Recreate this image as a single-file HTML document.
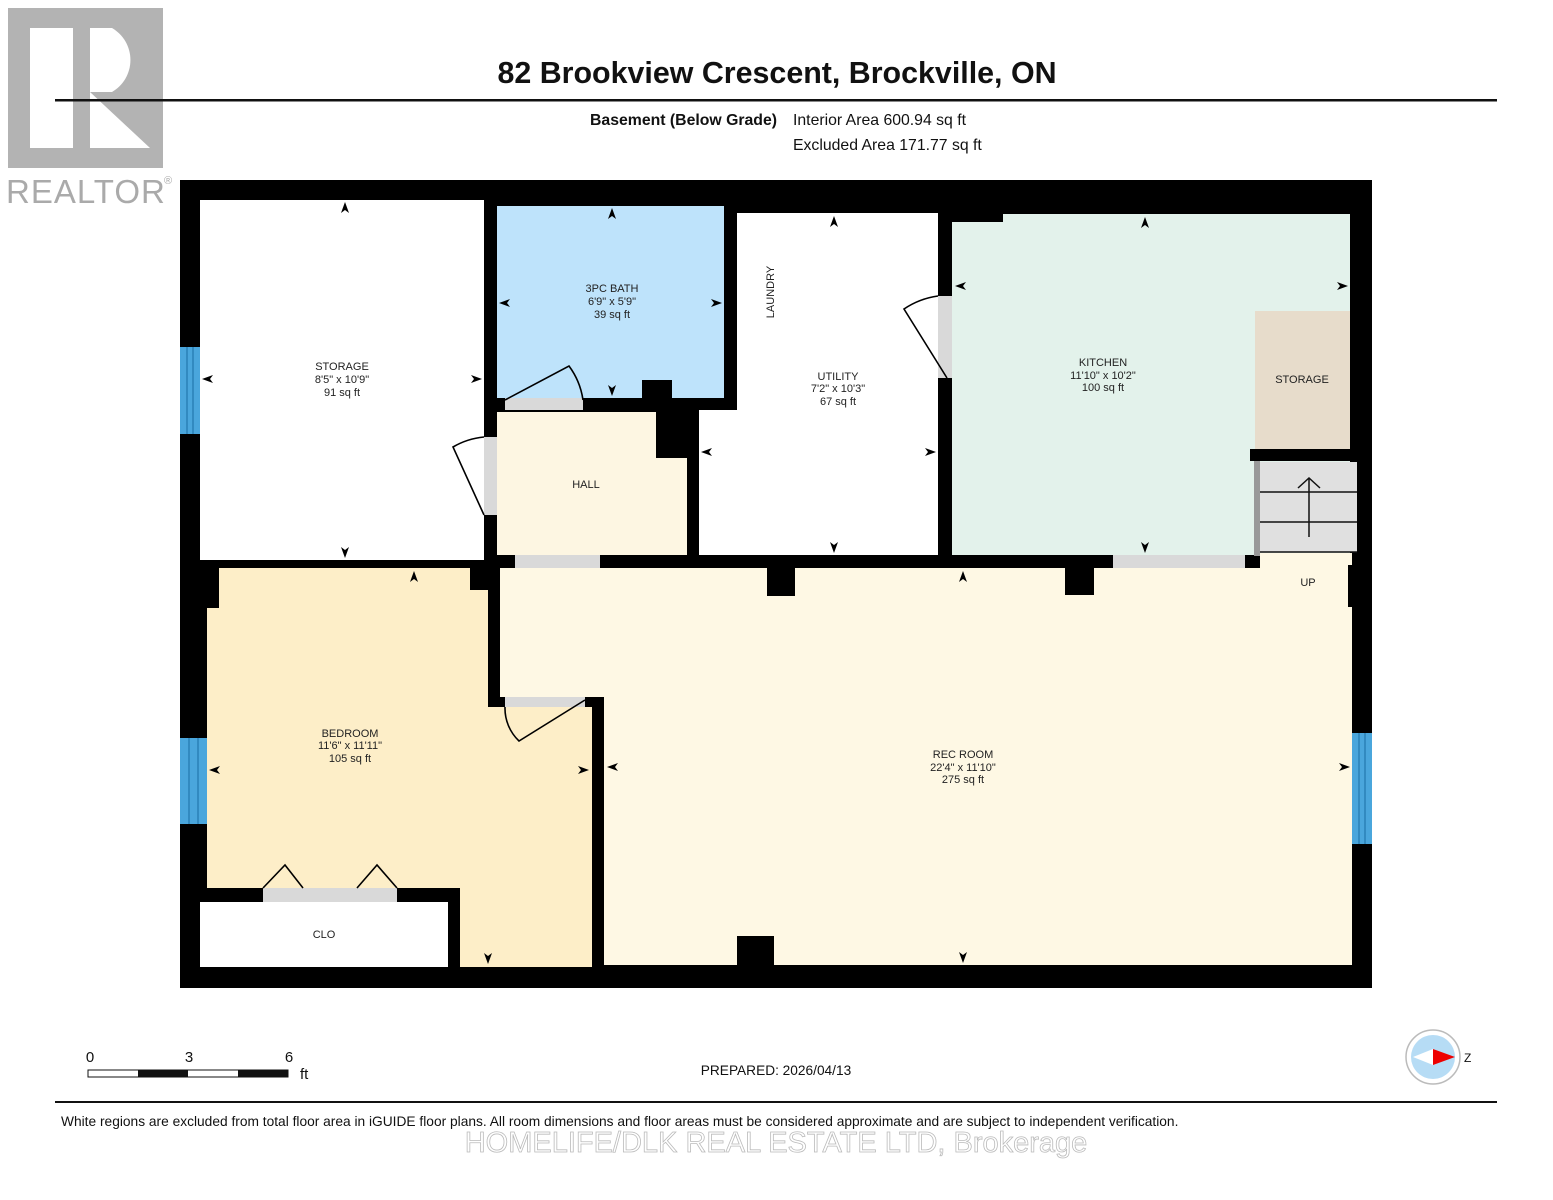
<!DOCTYPE html>
<html><head><meta charset="utf-8"><style>
html,body{margin:0;padding:0;background:#fff;}
svg{display:block;font-family:"Liberation Sans",Arial,sans-serif;}
</style></head><body>
<svg width="1553" height="1200" viewBox="0 0 1553 1200" xmlns="http://www.w3.org/2000/svg">
<defs>
<path id="a" d="M0,-6 L4,5 L0,2 L-4,5 Z" fill="#000"/>
</defs>
<!-- Realtor logo -->
<rect x="8" y="8" width="155" height="160" fill="#b3b3b3"/>
<rect x="30" y="28" width="43" height="120" fill="#fff"/>
<path d="M90,28 H112 A37,37 0 0 1 112,92 H90 Z" fill="#fff"/>
<path d="M90,92 L150,148 H90 Z" fill="#fff"/>
<rect x="73" y="28" width="17" height="120" fill="#b3b3b3"/>
<text x="6" y="203" font-size="33" fill="#aaa" letter-spacing="1">REALTOR</text>
<text x="164" y="184" font-size="11" fill="#aaa">®</text>
<!-- header -->
<text x="777" y="83" font-size="30.4" font-weight="bold" text-anchor="middle" fill="#111">82 Brookview Crescent, Brockville, ON</text>
<rect x="55" y="99" width="1442" height="2.5" fill="#111"/>
<text x="777" y="125" font-size="15.8" font-weight="bold" text-anchor="end" fill="#111">Basement (Below Grade)</text>
<text x="793" y="125" font-size="15.8" fill="#111">Interior Area 600.94 sq ft</text>
<text x="793" y="150" font-size="15.8" fill="#111">Excluded Area 171.77 sq ft</text>
<!-- building -->
<rect x="180" y="180" width="1192" height="808" fill="#000"/>
<rect x="200" y="200" width="284" height="360" fill="#fff"/>
<rect x="497" y="206" width="227" height="192" fill="#bee3fb"/>
<rect x="642" y="380" width="30" height="20" fill="#000"/>
<rect x="497" y="412" width="190" height="143" fill="#fdf6e2"/>
<rect x="656" y="400" width="42" height="58" fill="#000"/>
<rect x="737" y="213" width="201" height="342" fill="#fff"/>
<rect x="699" y="410" width="239" height="145" fill="#fff"/>
<rect x="952" y="214" width="398" height="341" fill="#e3f2eb"/>
<rect x="952" y="214" width="51" height="8" fill="#000"/>
<rect x="1255" y="311" width="95" height="138" fill="#e7dccb"/>
<rect x="1250" y="449" width="105" height="12" fill="#000"/>
<rect x="1254" y="461" width="6" height="95" fill="#999"/>
<rect x="1260" y="462" width="97" height="90" fill="#e0e0e0"/>
<line x1="1260" y1="492" x2="1357" y2="492" stroke="#111" stroke-width="1.5"/>
<line x1="1260" y1="522" x2="1357" y2="522" stroke="#111" stroke-width="1.5"/>
<line x1="1260" y1="552" x2="1357" y2="552" stroke="#111" stroke-width="1.5"/>
<line x1="1309" y1="478" x2="1309" y2="537" stroke="#111" stroke-width="1.5"/>
<polyline points="1298,488 1309,478 1320,488" fill="none" stroke="#111" stroke-width="1.5"/>
<rect x="207" y="568" width="263" height="320" fill="#fdeec8"/>
<rect x="207" y="580" width="385" height="387" fill="#fdeec8"/>
<rect x="470" y="568" width="30" height="22" fill="#000"/>
<rect x="488" y="580" width="12" height="125" fill="#000"/>
<rect x="488" y="697" width="116" height="10" fill="#000"/>
<rect x="207" y="568" width="12" height="40" fill="#000"/>
<rect x="592" y="697" width="12" height="270" fill="#000"/>
<rect x="200" y="888" width="260" height="80" fill="#000"/>
<rect x="200" y="902" width="248" height="65" fill="#fff"/>
<rect x="500" y="568" width="852" height="129" fill="#fef8e4"/>
<rect x="604" y="697" width="748" height="268" fill="#fef8e4"/>
<rect x="1260" y="553" width="92" height="20" fill="#fef8e4"/>
<rect x="1348" y="565" width="10" height="42" fill="#000"/>
<rect x="767" y="568" width="28" height="28" fill="#000"/>
<rect x="1065" y="568" width="29" height="27" fill="#000"/>
<rect x="737" y="936" width="37" height="30" fill="#000"/>
<rect x="180" y="347" width="20" height="87" fill="#4aa6dc"/>
<rect x="180" y="738" width="27" height="86" fill="#4aa6dc"/>
<rect x="1352" y="733" width="20" height="111" fill="#4aa6dc"/>
<g stroke="#1a6fa5" stroke-width="1">
<line x1="187" y1="347" x2="187" y2="434"/><line x1="193" y1="347" x2="193" y2="434"/>
<line x1="189" y1="738" x2="189" y2="824"/><line x1="198" y1="738" x2="198" y2="824"/>
<line x1="1359" y1="733" x2="1359" y2="844"/><line x1="1365" y1="733" x2="1365" y2="844"/>
</g>
<g fill="#d9d9d9">
<rect x="484" y="437" width="13" height="78"/>
<rect x="505" y="398" width="78" height="12"/>
<rect x="515" y="555" width="85" height="13"/>
<rect x="1113" y="555" width="132" height="13"/>
<rect x="938" y="296" width="14" height="82"/>
<rect x="505" y="697" width="80" height="10"/>
<rect x="263" y="888" width="134" height="14"/>
</g>
<g fill="none" stroke="#000" stroke-width="1.6">
<path d="M484,515 L453,447 A75,75 0 0 1 484,437"/>
<path d="M505,400 L569,366 A75,75 0 0 1 583,400"/>
<path d="M947,378 L904,309 A80,80 0 0 1 938,296"/>
<path d="M585,700 L519,741 A45,45 0 0 1 505,707"/>
<polyline points="263,888 285,865 303,888"/>
<polyline points="357,888 377,865 397,888"/>
</g>
<use href="#a" transform="translate(345,208)"/>
<use href="#a" transform="translate(345,552) rotate(180)"/>
<use href="#a" transform="translate(208,379) rotate(-90)"/>
<use href="#a" transform="translate(476,379) rotate(90)"/>
<use href="#a" transform="translate(612,214)"/>
<use href="#a" transform="translate(612,390) rotate(180)"/>
<use href="#a" transform="translate(505,303) rotate(-90)"/>
<use href="#a" transform="translate(716,303) rotate(90)"/>
<use href="#a" transform="translate(834,222)"/>
<use href="#a" transform="translate(834,547) rotate(180)"/>
<use href="#a" transform="translate(707,452) rotate(-90)"/>
<use href="#a" transform="translate(930,452) rotate(90)"/>
<use href="#a" transform="translate(1145,223)"/>
<use href="#a" transform="translate(1145,547) rotate(180)"/>
<use href="#a" transform="translate(961,286) rotate(-90)"/>
<use href="#a" transform="translate(1342,286) rotate(90)"/>
<use href="#a" transform="translate(414,577)"/>
<use href="#a" transform="translate(488,958) rotate(180)"/>
<use href="#a" transform="translate(215,770) rotate(-90)"/>
<use href="#a" transform="translate(583,770) rotate(90)"/>
<use href="#a" transform="translate(963,577)"/>
<use href="#a" transform="translate(963,957) rotate(180)"/>
<use href="#a" transform="translate(613,767) rotate(-90)"/>
<use href="#a" transform="translate(1344,767) rotate(90)"/>
<g font-size="11" fill="#222" text-anchor="middle">
<text x="342" y="370">STORAGE</text><text x="342" y="383">8'5" x 10'9"</text><text x="342" y="396">91 sq ft</text>
<text x="612" y="292">3PC BATH</text><text x="612" y="305">6'9" x 5'9"</text><text x="612" y="318">39 sq ft</text>
<text x="586" y="488">HALL</text>
<text x="838" y="380">UTILITY</text><text x="838" y="392">7'2" x 10'3"</text><text x="838" y="405">67 sq ft</text>
<text x="770" y="292" transform="rotate(-90 770 292)" dy="4">LAUNDRY</text>
<text x="1103" y="366">KITCHEN</text><text x="1103" y="379">11'10" x 10'2"</text><text x="1103" y="391">100 sq ft</text>
<text x="1302" y="383">STORAGE</text>
<text x="1308" y="586">UP</text>
<text x="350" y="737">BEDROOM</text><text x="350" y="749">11'6" x 11'11"</text><text x="350" y="762">105 sq ft</text>
<text x="324" y="938">CLO</text>
<text x="963" y="758">REC ROOM</text><text x="963" y="771">22'4" x 11'10"</text><text x="963" y="783">275 sq ft</text>
</g>
<text x="90" y="1062" font-size="15" text-anchor="middle" fill="#111">0</text>
<text x="189" y="1062" font-size="15" text-anchor="middle" fill="#111">3</text>
<text x="289" y="1062" font-size="15" text-anchor="middle" fill="#111">6</text>
<text x="300" y="1079" font-size="15" fill="#111">ft</text>
<rect x="88" y="1070" width="200" height="7" fill="#fff" stroke="#111" stroke-width="1"/>
<rect x="138" y="1070" width="50" height="7" fill="#111"/>
<rect x="238" y="1070" width="50" height="7" fill="#111"/>
<text x="776" y="1075" font-size="13.7" text-anchor="middle" fill="#111">PREPARED: 2026/04/13</text>
<circle cx="1433" cy="1057" r="27" fill="#fff" stroke="#bbb" stroke-width="1.5"/>
<circle cx="1433" cy="1057" r="22" fill="#b6dcf5"/>
<path d="M1413,1057 L1433,1049 L1433,1065 Z" fill="#fff"/>
<path d="M1433,1049 L1455,1057 L1433,1065 Z" fill="#e00"/>
<text x="1464" y="1062" font-size="12" fill="#111">Z</text>
<rect x="55" y="1101" width="1442" height="2" fill="#111"/>
<text x="61" y="1126" font-size="13.75" fill="#111">White regions are excluded from total floor area in iGUIDE floor plans. All room dimensions and floor areas must be considered approximate and are subject to independent verification.</text>
<text x="776" y="1152" font-size="29" text-anchor="middle" fill="#fff" stroke="#bbb" stroke-width="0.8">HOMELIFE/DLK REAL ESTATE LTD, Brokerage</text>
</svg>
</body></html>
